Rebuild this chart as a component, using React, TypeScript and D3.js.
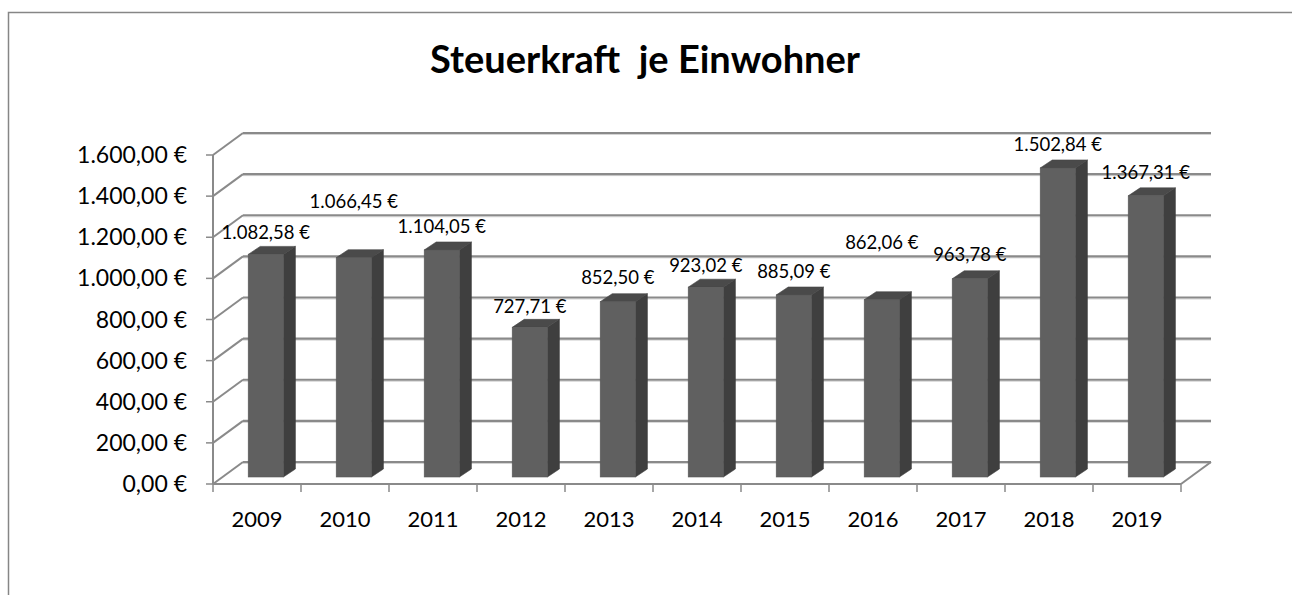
import React from "react";
import * as d3 from "d3";

const years = ["2009", "2010", "2011", "2012", "2013", "2014", "2015", "2016", "2017", "2018", "2019"];
const values = [1082.58, 1066.45, 1104.05, 727.71, 852.5, 923.02, 885.09, 862.06, 963.78, 1502.84, 1367.31];
const yTicks = [0, 200, 400, 600, 800, 1000, 1200, 1400, 1600];
const title = "Steuerkraft  je Einwohner";

// layout
const W = 1292, H = 595;
const X0 = 213, X1 = 1181;
const Y0 = 484, Y1 = 155;
const DEPTH_X = 30, DEPTH_Y = -22;
const BAR_DX = 12, BAR_DY = -8;
const BAR_PLANE_DY = -7;
const LABEL_LIFT = [22, 56, 23, 21, 24, 22, 23, 57, 24, 23, 23];
const FONT = "Lato, 'Open Sans', sans-serif";

const loc = d3.formatLocale({ decimal: ",", thousands: ".", grouping: [3], currency: ["", " €"] });
const fmt = loc.format("$,.2f");

export default function App() {
  const x = d3.scaleBand<string>().domain(years).range([X0, X1]);
  const y = d3.scaleLinear().domain([0, 1600]).range([Y0, Y1]);
  const bw = x.bandwidth() * 0.4;
  const gridColor = "#8a8a8a";

  return (
    <svg width={W} height={H} style={{ position: "absolute", left: 0, top: 0, background: "#fff" }}>
      <rect x={0} y={0} width={W} height={H} fill="#fff" />
      {/* chart border */}
      <path d={`M8.5,${H} L8.5,12.5 L${W},12.5`} fill="none" stroke="#868686" strokeWidth={1.5} />
      <text x={645} y={73} textAnchor="middle" fontFamily={FONT} fontWeight={700} fontSize={38} fill="#000" style={{ whiteSpace: "pre" }}>
        {title}
      </text>

      {/* back wall gridlines */}
      {yTicks.map((t) => (
        <g key={"g" + t}>
          <line x1={X0 + DEPTH_X} x2={X1 + DEPTH_X} y1={y(t) + DEPTH_Y + 1.5} y2={y(t) + DEPTH_Y + 1.5} stroke="#d4d4d4" strokeWidth={1} />
          <line x1={X0 + DEPTH_X} x2={X1 + DEPTH_X} y1={y(t) + DEPTH_Y} y2={y(t) + DEPTH_Y} stroke={gridColor} strokeWidth={2.2} />
          <line x1={X0} x2={X0 + DEPTH_X} y1={y(t)} y2={y(t) + DEPTH_Y} stroke={gridColor} strokeWidth={2} />
          <line x1={X0 - 7} x2={X0} y1={y(t)} y2={y(t)} stroke={gridColor} strokeWidth={1.5} />
          <text x={187} y={y(t)} dy="0.35em" textAnchor="end" fontFamily={FONT} fontSize={23} fill="#000">
            {fmt(t)}
          </text>
        </g>
      ))}
      {/* floor */}
      <line x1={X0} x2={X1} y1={Y0} y2={Y0} stroke={gridColor} strokeWidth={2.2} />
      <line x1={X0} x2={X0} y1={Y1} y2={Y0} stroke={gridColor} strokeWidth={2} />
      <line x1={X1} x2={X1 + DEPTH_X} y1={Y0} y2={Y0 + DEPTH_Y} stroke={gridColor} strokeWidth={2} />
      {years.map((yr) => (
        <line key={"t" + yr} x1={x(yr)!} x2={x(yr)!} y1={Y0} y2={Y0 + 8} stroke={gridColor} strokeWidth={1.5} />
      ))}
      <line x1={X1} x2={X1} y1={Y0} y2={Y0 + 8} stroke={gridColor} strokeWidth={1.5} />

      {/* bars */}
      {years.map((yr, i) => {
        const bx = x(yr)! + bw;
        const base = y(0) + BAR_PLANE_DY;
        const top = y(values[i]) + BAR_PLANE_DY;
        return (
          <g key={"b" + yr}>
            <path
              d={`M${bx + bw},${top} L${bx + bw + BAR_DX},${top + BAR_DY} L${bx + bw + BAR_DX},${base + BAR_DY} L${bx + bw},${base} Z`}
              fill="#3f3f3f"
              stroke="#3a3a3a"
              strokeWidth={0.6}
            />
            <path
              d={`M${bx},${top} L${bx + BAR_DX},${top + BAR_DY} L${bx + bw + BAR_DX},${top + BAR_DY} L${bx + bw},${top} Z`}
              fill="#4a4a4a"
              stroke="#444"
              strokeWidth={0.6}
            />
            <rect x={bx} y={top} width={bw} height={base - top} fill="#606060" stroke="#585858" strokeWidth={0.6} />
          </g>
        );
      })}

      {/* data labels */}
      {years.map((yr, i) => {
        const cx = x(yr)! + bw + bw / 2;
        const cy = y(values[i]) + BAR_PLANE_DY - LABEL_LIFT[i];
        return (
          <text key={"l" + yr} x={cx} y={cy} dy="0.35em" textAnchor="middle" fontFamily={FONT} fontSize={18.5} fill="#000">
            {fmt(values[i])}
          </text>
        );
      })}

      {/* category labels */}
      {years.map((yr) => (
        <text key={"c" + yr} x={x(yr)! + x.bandwidth() / 2} y={527} textAnchor="middle" fontFamily={FONT} fontSize={22} fill="#000">
          {yr}
        </text>
      ))}
    </svg>
  );
}
